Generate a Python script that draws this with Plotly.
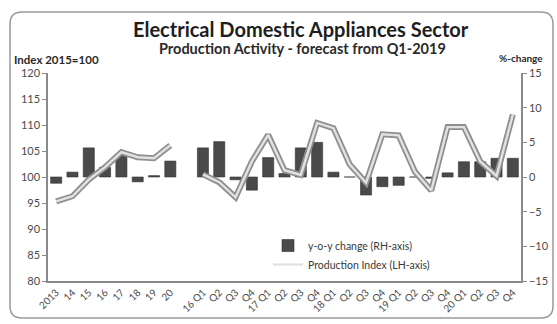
import plotly.graph_objects as go

# Category axis: annual block, an empty separator slot, then quarterly block
tick_labels = ["2013", "14", "15", "16", "17", "18", "19", "20", "",
               "16 Q1", "Q2", "Q3", "Q4", "17 Q1", "Q2", "Q3", "Q4",
               "18 Q1", "Q2", "Q3", "Q4", "19 Q1", "Q2", "Q3", "Q4",
               "20 Q1", "Q2", "Q3", "Q4"]

# y-o-y change, % (right-hand axis)
yoy_change = [-0.9, 0.7, 4.2, 1.4, 3.2, -0.7, 0.2, 2.3, None,
              4.2, 5.1, -0.4, -1.9, 2.8, 0.5, 4.2, 5.0,
              0.7, 0.0, -2.6, -1.4, -1.2, 0.0, -0.2, 0.6,
              2.2, 2.2, 2.7, 2.7]

# Production index, 2015=100 (left-hand axis)
prod_index = [95.3, 96.3, 99.5, 101.9, 104.8, 103.8, 103.6, 106.1, None,
              100.5, 99.0, 96.1, 103.0, 108.1, 101.3, 100.4, 110.4,
              109.4, 102.4, 98.9, 108.2, 108.0, 101.0, 97.4, 109.6,
              109.6, 103.0, 100.2, 112.0]

x = list(range(len(tick_labels)))

W, H = 557, 324
L, R, T, B = 48, 521, 73, 281  # plot area in pixels


def px(xp):
    return (xp - L) / (R - L)


def py(yp):
    return (B - yp) / (B - T)


fig = go.Figure()

fig.add_trace(go.Bar(
    x=x, y=yoy_change, yaxis="y", width=0.68,
    marker=dict(color="#4a4a4a", line=dict(color="#333333", width=0.6)),
    name="y-o-y change (RH-axis)",
))

# Double-stroke line: dark outer stroke with a light core
fig.add_trace(go.Scatter(
    x=x, y=prod_index, yaxis="y2", mode="lines", connectgaps=False,
    line=dict(color="#8f8f8f", width=6), showlegend=False, hoverinfo="skip",
))
fig.add_trace(go.Scatter(
    x=x, y=prod_index, yaxis="y2", mode="lines", connectgaps=False,
    line=dict(color="#e2e2e2", width=2.4),
    name="Production Index (LH-axis)",
))

font_family = "Lato, 'Open Sans', sans-serif"
axis_col = "#8a8a8a"
tick_font = dict(family=font_family, size=11, color="#4a4a4a")

# Rounded chart frame
x0, x1 = px(10), px(553)
y0, y1 = py(318), py(12)
r = 12
rx, ry = r / (R - L), r / (B - T)
frame = (f"M {x0 + rx} {y1} L {x1 - rx} {y1} Q {x1} {y1} {x1} {y1 - ry} "
         f"L {x1} {y0 + ry} Q {x1} {y0} {x1 - rx} {y0} "
         f"L {x0 + rx} {y0} Q {x0} {y0} {x0} {y0 + ry} "
         f"L {x0} {y1 - ry} Q {x0} {y1} {x0 + rx} {y1} Z")


def label(text, xp, yp, size, xanchor="center", color="#2a2a2a"):
    return dict(text=text, x=px(xp), y=py(yp), xref="paper", yref="paper",
                xanchor=xanchor, yanchor="middle", showarrow=False,
                font=dict(family=font_family, size=size, color=color))


fig.update_layout(
    width=W, height=H,
    margin=dict(l=L, r=W - R, t=T, b=H - B, autoexpand=False),
    paper_bgcolor="white", plot_bgcolor="rgba(0,0,0,0)",
    showlegend=True,
    legend=dict(x=px(268), y=py(231), xanchor="left", yanchor="top",
                bgcolor="rgba(0,0,0,0)", font=dict(family=font_family, size=10.5, color="#3a3a3a"),
                tracegroupgap=0, itemwidth=30),
    xaxis=dict(range=[-0.5, len(x) - 0.5], tickmode="array", tickvals=x, ticktext=tick_labels,
               tickangle=-45, showline=True, linecolor=axis_col, linewidth=1.5,
               showgrid=False, zeroline=False, ticks="",
               tickfont=dict(family=font_family, size=10, color="#4a4a4a")),
    yaxis=dict(side="right", range=[-15, 15], dtick=5, showline=True, linecolor=axis_col,
               linewidth=1.5, ticks="outside", ticklen=4, tickcolor=axis_col,
               showgrid=False, zeroline=False, tickfont=tick_font),
    yaxis2=dict(side="left", overlaying="y", range=[80, 120], dtick=5, showline=True,
                linecolor=axis_col, linewidth=1.5, ticks="outside", ticklen=4, tickcolor=axis_col,
                showgrid=False, zeroline=False, tickfont=tick_font),
    shapes=[dict(type="path", path=frame, xref="paper", yref="paper",
                 line=dict(color="#9a9a9a", width=1.5), layer="below")],
    annotations=[
        label("<b>Electrical Domestic Appliances Sector</b>", 301, 29, 20, color="#1e1e1e"),
        label("<b>Production Activity - forecast from Q1-2019</b>", 302, 48, 14.5),
        label("<b>Index 2015=100</b>", 12, 59, 11.5, xanchor="left"),
        label("<b>%-change</b>", 545, 58, 10, xanchor="right"),
    ],
)

fig.write_html("out.html")
